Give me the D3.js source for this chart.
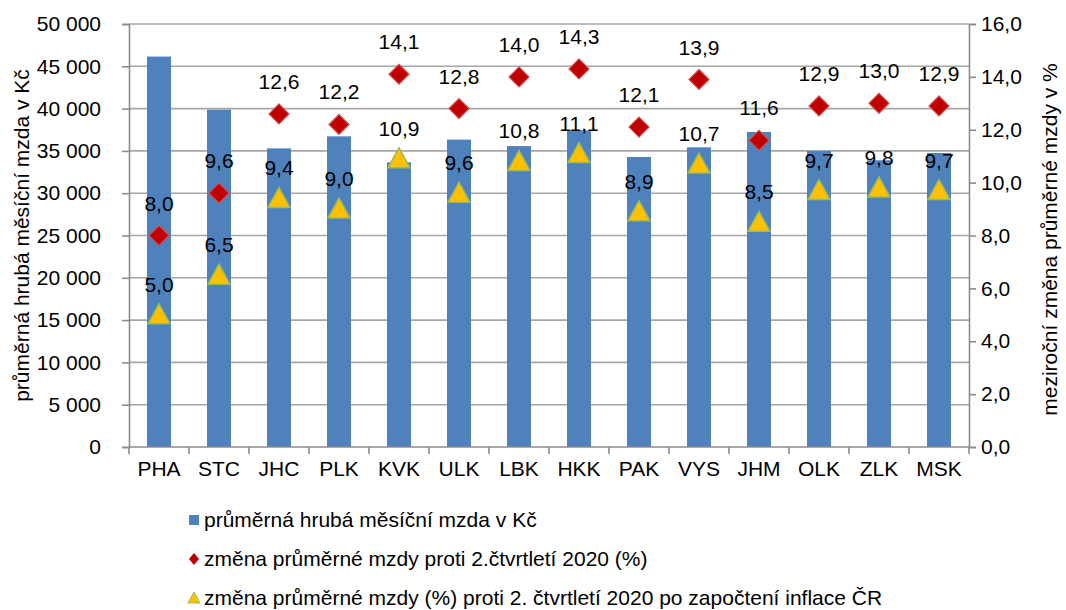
<!DOCTYPE html>
<html>
<head>
<meta charset="utf-8">
<script src="https://cdn.jsdelivr.net/npm/d3@7"></script>
<style>
  body { margin: 0; background: #fff; }
  svg { font-family: "Liberation Sans", Arial, sans-serif; }
</style>
</head>
<body>
<div class="d3chart"></div>
<script>
var width = 1066,
    height = 610;

// data
var regions = ["PHA", "STC", "JHC", "PLK", "KVK", "ULK", "LBK", "HKK", "PAK", "VYS", "JHM", "OLK", "ZLK", "MSK"];
var wage = [46150, 39870, 35300, 36720, 33650, 36330, 35570, 37430, 34280, 35420, 37230, 34990, 33890, 34750];
var nominal = [8.0, 9.6, 12.6, 12.2, 14.1, 12.8, 14.0, 14.3, 12.1, 13.9, 11.6, 12.9, 13.0, 12.9];
var real = [5.0, 6.5, 9.4, 9.0, 10.9, 9.6, 10.8, 11.1, 8.9, 10.7, 8.5, 9.7, 9.8, 9.7];
var leftTicks = [0, 5000, 10000, 15000, 20000, 25000, 30000, 35000, 40000, 45000, 50000];
var rightTicks = [0, 2, 4, 6, 8, 10, 12, 14, 16];
var legendLabels = [
  "průměrná hrubá měsíční mzda v Kč",
  "změna průměrné mzdy proti 2.čtvrtletí 2020 (%)",
  "změna průměrné mzdy (%) proti 2. čtvrtletí 2020 po započtení inflace ČR"
];

var plotL = 129, plotR = 969, plotT = 24, plotB = 447;
var fs = 21;

var svg = d3.select(".d3chart").append("svg")
    .attr("width", width)
    .attr("height", height);

var x = d3.scaleBand().domain(regions).range([plotL, plotR]).paddingInner(0.6).paddingOuter(0.3);
var band = d3.scaleBand().domain(regions).range([plotL, plotR]);
var yL = d3.scaleLinear().domain([0, 50000]).range([plotB, plotT]);
var yR = d3.scaleLinear().domain([0, 16]).range([plotB, plotT]);

var fmtL = function(d) { return d3.format(",")(d).replace(/,/g, " "); };
var fmtR = function(d) { return d3.format(".1f")(d).replace(".", ","); };

// gridlines
svg.append("g")
    .selectAll("line")
    .data(leftTicks.slice(1))
    .enter().append("line")
    .attr("x1", plotL).attr("x2", plotR)
    .attr("y1", function(d) { return yL(d); })
    .attr("y2", function(d) { return yL(d); })
    .attr("stroke", "#a6a6a6")
    .attr("stroke-width", 1.6);

// bars
svg.append("g")
    .selectAll("rect")
    .data(wage)
    .enter().append("rect")
    .attr("x", function(d, i) { return x(regions[i]); })
    .attr("width", x.bandwidth())
    .attr("y", function(d) { return yL(d); })
    .attr("height", function(d) { return plotB - yL(d); })
    .attr("fill", "#4f81bd");

// axes
var axisColor = "#8c8c8c";
var gl = svg.append("g")
    .attr("transform", "translate(" + plotL + ",0)")
    .call(d3.axisLeft(yL).tickValues(leftTicks).tickFormat(fmtL).tickSize(7).tickPadding(21));
var gr = svg.append("g")
    .attr("transform", "translate(" + plotR + ",0)")
    .call(d3.axisRight(yR).tickValues(rightTicks).tickFormat(fmtR).tickSize(7).tickPadding(5));
var gx = svg.append("g")
    .attr("transform", "translate(0," + plotB + ")")
    .call(d3.axisBottom(x).tickSize(0).tickPadding(14));

[gl, gr, gx].forEach(function(g) {
  g.select(".domain").attr("stroke", axisColor).attr("stroke-width", 1.6);
  g.selectAll(".tick line").attr("stroke", axisColor).attr("stroke-width", 1.6);
  g.selectAll("text").attr("font-size", fs).attr("fill", "#000").attr("font-family", "Liberation Sans, Arial, sans-serif");
});
gx.select(".domain").attr("d", "M" + plotL + ",0H" + plotR);

// category boundary ticks
var bounds = regions.map(function(r) { return band(r); }).concat([plotR]);
svg.append("g")
    .selectAll("line")
    .data(bounds)
    .enter().append("line")
    .attr("x1", function(d) { return d; }).attr("x2", function(d) { return d; })
    .attr("y1", plotB).attr("y2", plotB + 7)
    .attr("stroke", axisColor).attr("stroke-width", 1.6);

// axis titles
svg.append("text")
    .attr("transform", "translate(29," + ((plotT + plotB) / 2) + ") rotate(-90)")
    .attr("text-anchor", "middle")
    .attr("font-size", fs)
    .text("průměrná hrubá měsíční mzda v Kč");
svg.append("text")
    .attr("transform", "translate(1057," + ((plotT + plotB) / 2 + 4) + ") rotate(-90)")
    .attr("text-anchor", "middle")
    .attr("font-size", fs)
    .text("meziroční změna průměrné mzdy v %");

var cx = function(i) { return x(regions[i]) + x.bandwidth() / 2; };

// diamonds
svg.append("g")
    .selectAll("path")
    .data(nominal)
    .enter().append("path")
    .attr("d", "M0,-10L10,0L0,10L-10,0Z")
    .attr("transform", function(d, i) { return "translate(" + cx(i) + "," + yR(d) + ")"; })
    .attr("fill", "#c00000")
    .attr("stroke", "#d0504d")
    .attr("stroke-width", 1.2);

// triangles
svg.append("g")
    .selectAll("path")
    .data(real)
    .enter().append("path")
    .attr("d", "M0,-11L11,9L-11,9Z")
    .attr("transform", function(d, i) { return "translate(" + cx(i) + "," + yR(d) + ")"; })
    .attr("fill", "#ffc000")
    .attr("stroke", "#9bbb59")
    .attr("stroke-width", 1.5);

// labels
svg.append("g")
    .selectAll("text")
    .data(nominal)
    .enter().append("text")
    .attr("x", function(d, i) { return cx(i); })
    .attr("y", function(d) { return yR(d) - 25; })
    .attr("text-anchor", "middle")
    .attr("font-size", fs)
    .text(fmtR);
svg.append("g")
    .selectAll("text")
    .data(real)
    .enter().append("text")
    .attr("x", function(d, i) { return cx(i); })
    .attr("y", function(d) { return yR(d) - 23; })
    .attr("text-anchor", "middle")
    .attr("font-size", fs)
    .text(fmtR);

// legend
var leg = svg.append("g");
var legY = [520, 559, 598];
leg.append("rect").attr("x", 189).attr("y", legY[0] - 5).attr("width", 10).attr("height", 10).attr("fill", "#4f81bd");
leg.append("path").attr("d", "M0,-6L5,0L0,6L-5,0Z").attr("transform", "translate(194," + legY[1] + ")").attr("fill", "#c00000");
leg.append("path").attr("d", "M0,-6L6,5L-6,5Z").attr("transform", "translate(194," + legY[2] + ")").attr("fill", "#ffc000").attr("stroke", "#9bbb59").attr("stroke-width", 1);
leg.selectAll("text")
    .data(legendLabels)
    .enter().append("text")
    .attr("x", 204)
    .attr("y", function(d, i) { return legY[i]; })
    .attr("dy", "0.35em")
    .attr("font-size", fs)
    .text(function(d) { return d; });
</script>
</body>
</html>
